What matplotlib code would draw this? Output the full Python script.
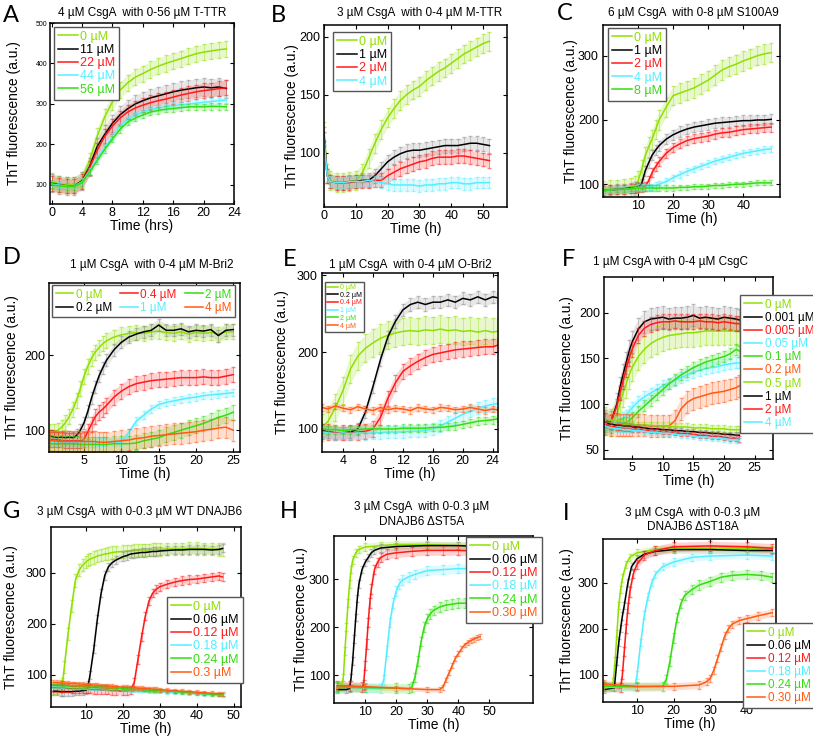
import numpy as np
import matplotlib
matplotlib.use("Agg")
import matplotlib.pyplot as plt

plt.rcParams['font.family'] = ['Liberation Sans', 'DejaVu Sans']

W, H = 813, 737

# ---------------- colours ----------------
LG = '#8ee000'   # 0 uM light green
GR = '#33dd11'
CY = '#55eeff'
RD = '#ff1a1a'
OR = '#ff5a14'
BK = '#000000'

# ---------------- Panel A ----------------
A_time = [0, 1, 2, 3, 4, 5, 6, 7, 8, 9, 10, 11, 12, 13, 14, 15, 16, 17, 18, 19, 20, 21, 22, 23]
A_0uM = [110, 102, 100, 100, 112, 160, 220, 268, 305, 334, 352, 366, 375, 385, 393, 400, 406, 412, 418, 424, 428, 431, 434, 436]
A_11uM = [105, 100, 98, 98, 110, 145, 195, 225, 252, 273, 288, 300, 308, 315, 320, 325, 330, 334, 337, 340, 342, 340, 342, 338]
A_22uM = [103, 100, 97, 97, 108, 142, 185, 220, 245, 265, 280, 290, 297, 303, 308, 312, 317, 322, 326, 330, 333, 335, 338, 340]
A_44uM = [102, 100, 97, 97, 108, 135, 165, 193, 220, 245, 262, 272, 280, 286, 290, 293, 296, 298, 300, 302, 304, 306, 308, 310]
A_56uM = [100, 98, 96, 96, 106, 132, 160, 188, 213, 237, 255, 265, 273, 280, 284, 287, 289, 291, 293, 293, 293, 294, 294, 293]
A_labels = ['0 µM', '11 µM', '22 µM', '44 µM', '56 µM']
A_err = [20, 22, 18, 8, 8]

# ---------------- Panel B ----------------
B_time = [0, 1, 2, 4, 6, 8, 10, 12, 14, 16, 18, 20, 22, 24, 26, 28, 30, 32, 34, 36, 38, 40, 42, 44, 46, 48, 50, 52]
B_0uM = [118, 82, 76, 74, 74, 75, 76, 82, 95, 108, 120, 130, 138, 145, 150, 154, 157, 162, 166, 170, 173, 177, 181, 185, 188, 191, 194, 196]
B_1uM = [116, 80, 75, 74, 74, 75, 75, 76, 76, 80, 86, 92, 96, 99, 101, 102, 102, 103, 104, 105, 106, 106, 106, 107, 108, 108, 107, 106]
B_2uM = [112, 80, 75, 74, 74, 74, 75, 75, 75, 76, 76, 80, 83, 86, 88, 90, 92, 93, 95, 96, 96, 96, 97, 97, 96, 95, 94, 93]
B_4uM = [112, 80, 75, 74, 74, 75, 75, 75, 76, 75, 74, 73, 72, 72, 72, 72, 71, 72, 72, 73, 73, 74, 74, 73, 73, 74, 74, 74]
B_labels = ['0 µM', '1 µM', '2 µM', '4 µM']
B_err = [8, 6, 6, 5]

# ---------------- Panel C ----------------
C_time = [0, 2, 4, 6, 8, 9, 10, 11, 12, 13, 14, 15, 16, 18, 20, 22, 24, 26, 28, 30, 32, 34, 36, 38, 40, 42, 44, 46, 48]
C_0uM = [90, 91, 92, 93, 95, 98, 105, 122, 143, 158, 170, 185, 200, 220, 238, 242, 246, 250, 256, 262, 270, 278, 283, 287, 292, 296, 300, 303, 305]
C_1uM = [90, 91, 92, 93, 94, 95, 96, 100, 120, 133, 145, 153, 160, 170, 177, 182, 186, 189, 191, 193, 195, 196, 197, 198, 199, 199, 200, 200, 201]
C_2uM = [90, 91, 92, 92, 93, 94, 95, 95, 96, 105, 118, 127, 135, 148, 157, 163, 168, 171, 173, 175, 178, 180, 181, 183, 185, 186, 187, 188, 189]
C_4uM = [90, 91, 92, 92, 93, 94, 95, 95, 95, 96, 96, 98, 100, 104, 110, 115, 120, 124, 128, 132, 136, 139, 142, 145, 148, 150, 152, 154, 155]
C_8uM = [90, 91, 92, 92, 93, 93, 94, 94, 94, 94, 94, 94, 94, 94, 94, 95, 95, 96, 96, 97, 98, 98, 99, 100, 100, 101, 102, 102, 102]
C_labels = ['0 µM', '1 µM', '2 µM', '4 µM', '8 µM']
C_err = [15, 8, 7, 5, 4]

# ---------------- Panel D ----------------
D_time = [0.5, 1, 1.5, 2, 2.5, 3, 3.5, 4, 4.5, 5, 5.5, 6, 6.5, 7, 7.5, 8, 9, 10, 11, 12, 13, 14, 15, 16, 17, 18, 19, 20, 21, 22, 23, 24, 25]
D_0uM = [98, 98, 100, 104, 110, 118, 128, 140, 155, 172, 185, 196, 204, 210, 215, 219, 224, 227, 229, 230, 229, 231, 232, 230, 229, 231, 228, 230, 229, 230, 228, 231, 231]
D_02uM = [92, 91, 90, 91, 90, 91, 90, 93, 100, 110, 125, 143, 158, 172, 183, 193, 207, 217, 224, 228, 231, 233, 240, 233, 233, 235, 231, 233, 232, 234, 226, 233, 234]
D_04uM = [88, 88, 87, 87, 86, 86, 86, 86, 86, 88, 98, 108, 118, 124, 128, 133, 144, 152, 158, 162, 164, 166, 167, 168, 169, 170, 170, 170, 171, 170, 170, 172, 174]
D_1uM = [84, 84, 84, 83, 83, 83, 83, 83, 83, 83, 83, 83, 83, 84, 84, 84, 84, 84, 97, 112, 120, 128, 134, 137, 139, 141, 143, 144, 146, 147, 148, 149, 150]
D_2uM = [82, 82, 82, 82, 82, 82, 82, 82, 81, 81, 81, 81, 81, 81, 81, 81, 82, 82, 82, 83, 86, 88, 90, 94, 97, 100, 103, 106, 109, 113, 117, 120, 124]
D_4uM = [86, 86, 85, 85, 85, 85, 85, 85, 85, 85, 85, 85, 85, 84, 84, 84, 85, 86, 87, 89, 90, 92, 93, 94, 95, 96, 97, 98, 100, 101, 103, 104, 100]
D_labels = ['0 µM', '0.2 µM', '0.4 µM', '1 µM', '2 µM', '4 µM']
D_err = [10, 8, 10, 5, 10, 14]

# ---------------- Panel E ----------------
E_time = [1.2, 2, 3, 4, 5, 6, 7, 8, 9, 10, 11, 12, 13, 14, 15, 16, 17, 18, 19, 20, 21, 22, 23, 24, 25]
E_0uM = [102, 110, 128, 150, 178, 195, 205, 212, 218, 222, 225, 227, 228, 227, 229, 228, 230, 228, 229, 227, 228, 226, 228, 226, 228]
E_02uM = [98, 96, 95, 95, 96, 100, 122, 155, 190, 220, 240, 255, 262, 265, 262, 265, 265, 268, 265, 270, 268, 272, 268, 272, 270]
E_04uM = [97, 96, 95, 95, 95, 96, 97, 100, 115, 140, 160, 175, 182, 188, 193, 197, 199, 201, 203, 204, 205, 206, 207, 207, 210]
E_1uM = [96, 95, 94, 95, 94, 95, 94, 95, 95, 96, 96, 96, 97, 97, 98, 100, 104, 109, 114, 119, 123, 127, 130, 132, 134]
E_2uM = [100, 99, 99, 98, 99, 99, 100, 100, 100, 100, 100, 101, 101, 101, 101, 102, 102, 103, 104, 106, 108, 110, 111, 112, 114]
E_4uM = [128, 126, 130, 127, 125, 129, 126, 124, 128, 125, 127, 126, 124, 128, 126, 125, 128, 127, 125, 126, 128, 126, 124, 126, 124]
E_labels = ['0 µM', '0.2 µM', '0.4 µM', '1 µM', '2 µM', '4 µM']
E_err = [18, 8, 10, 8, 5, 4]

# ---------------- Panel F ----------------
F_time = [0.5, 1.5, 2.5, 3, 3.5, 4, 4.5, 5, 6, 7, 8, 9, 10, 11, 12, 13, 14, 15, 16, 17, 18, 19, 20, 21, 22, 22.5]
F_0uM = [82, 80, 88, 100, 112, 122, 132, 140, 152, 160, 166, 170, 173, 175, 176, 177, 178, 178, 179, 180, 180, 180, 180, 180, 180, 180]
F_0001uM = [82, 80, 100, 118, 132, 145, 158, 168, 182, 190, 193, 194, 195, 193, 194, 194, 195, 197, 194, 195, 194, 193, 195, 194, 193, 192]
F_0005uM = [82, 80, 98, 112, 125, 138, 150, 160, 175, 183, 187, 189, 190, 190, 191, 190, 190, 190, 191, 190, 190, 189, 190, 189, 188, 188]
F_005uM = [80, 78, 80, 82, 85, 88, 92, 96, 103, 108, 112, 116, 120, 123, 126, 129, 132, 135, 137, 139, 140, 141, 143, 144, 145, 145]
F_01uM = [78, 77, 77, 78, 79, 80, 82, 85, 92, 98, 104, 110, 116, 122, 127, 132, 136, 140, 143, 146, 148, 150, 152, 155, 160, 158]
F_02uM = [78, 77, 77, 77, 77, 77, 77, 77, 77, 77, 76, 76, 76, 76, 82, 95, 102, 106, 108, 110, 112, 113, 114, 116, 118, 120]
F_05uM = [80, 79, 79, 79, 78, 78, 78, 78, 77, 77, 77, 76, 76, 76, 75, 75, 75, 74, 74, 74, 73, 73, 73, 72, 72, 72]
F_1uM = [80, 78, 77, 77, 76, 76, 76, 75, 75, 74, 73, 73, 72, 72, 71, 71, 70, 70, 69, 69, 68, 68, 67, 67, 66, 66]
F_2uM = [78, 76, 75, 75, 74, 74, 74, 73, 73, 72, 71, 71, 70, 70, 69, 68, 68, 67, 66, 66, 65, 65, 64, 63, 63, 62]
F_4uM = [76, 74, 73, 73, 72, 72, 72, 71, 71, 70, 69, 69, 68, 68, 67, 66, 66, 65, 64, 64, 63, 63, 62, 61, 61, 60]
F_labels = ['0 µM', '0.001 µM', '0.005 µM', '0.05 µM', '0.1 µM', '0.2 µM', '0.5 µM', '1 µM', '2 µM', '4 µM']
F_err = [15, 12, 8, 6, 6, 12, 4, 3, 3, 3]

# ---------------- Panel G ----------------
G_time = [1, 2, 3, 3.5, 4, 5, 6, 7, 8, 9, 10, 10.5, 11, 12, 13, 14, 15, 16, 17, 18, 20, 21, 22, 23, 24, 25, 26, 27, 28, 29, 30, 32, 34, 36, 38, 40, 42, 44, 46, 47]
G_0uM = [75, 75, 78, 82, 115, 180, 235, 285, 305, 315, 322, 325, 327, 330, 333, 335, 337, 338, 340, 341, 342, 343, 343, 344, 344, 345, 345, 345, 346, 346, 346, 347, 347, 347, 348, 348, 347, 347, 346, 346]
G_006uM = [68, 68, 67, 67, 67, 67, 67, 68, 68, 69, 70, 80, 100, 150, 210, 260, 295, 312, 320, 325, 332, 334, 337, 338, 339, 340, 340, 341, 342, 342, 343, 344, 345, 345, 346, 346, 346, 345, 346, 348]
G_012uM = [75, 75, 74, 74, 74, 74, 73, 73, 73, 72, 72, 72, 72, 71, 71, 70, 70, 70, 69, 69, 68, 68, 70, 85, 130, 175, 215, 245, 260, 268, 273, 278, 282, 285, 287, 288, 290, 292, 294, 292]
G_018uM = [78, 77, 77, 77, 77, 76, 76, 76, 75, 75, 75, 75, 74, 74, 74, 73, 73, 73, 72, 72, 71, 71, 70, 70, 70, 69, 69, 68, 68, 68, 67, 66, 65, 65, 64, 63, 62, 62, 61, 60]
G_024uM = [80, 79, 79, 79, 79, 78, 78, 78, 77, 77, 77, 76, 76, 76, 75, 75, 75, 74, 74, 74, 73, 73, 72, 72, 72, 71, 71, 70, 70, 70, 69, 68, 67, 66, 65, 64, 63, 62, 61, 61]
G_03uM = [85, 85, 84, 84, 84, 84, 83, 83, 82, 82, 81, 81, 81, 80, 80, 79, 79, 78, 78, 77, 76, 76, 75, 75, 74, 74, 73, 73, 72, 72, 71, 70, 69, 68, 67, 66, 65, 64, 63, 63]
G_labels = ['0 µM', '0.06 µM', '0.12 µM', '0.18 µM', '0.24 µM', '0.3 µM']
G_err = [12, 8, 8, 3, 3, 4]

# ---------------- Panel H ----------------
H_t_0 = [1, 2, 2.5, 3, 3.5, 4, 4.5, 5, 5.5, 6, 7, 8, 10, 15, 20, 30, 40, 47]
H_y_0 = [78, 78, 79, 95, 150, 200, 250, 290, 320, 340, 355, 362, 367, 370, 372, 372, 370, 370]
H_t_006 = [1, 4, 5, 5.5, 6, 6.5, 7, 7.5, 8, 9, 10, 11, 12, 13, 15, 20, 30, 40, 47]
H_y_006 = [70, 70, 72, 95, 130, 175, 220, 260, 290, 320, 335, 345, 355, 360, 365, 368, 370, 370, 368]
H_t_012 = [1, 5, 9, 9.5, 10, 10.5, 11, 11.5, 12, 13, 14, 15, 17, 20, 25, 30, 35, 40, 47]
H_y_012 = [78, 77, 75, 80, 120, 165, 210, 250, 280, 320, 335, 345, 352, 355, 358, 360, 360, 360, 358]
H_t_018 = [1, 10, 15, 16, 17, 18, 19, 20, 21, 22, 24, 26, 30, 35, 40, 44, 47]
H_y_018 = [75, 74, 72, 90, 150, 210, 250, 275, 290, 298, 305, 310, 318, 320, 322, 322, 320]
H_t_024 = [1, 10, 20, 24, 25, 26, 27, 28, 29, 30, 31, 32, 34, 36, 38, 40, 42, 44, 47]
H_y_024 = [75, 74, 73, 72, 75, 95, 130, 170, 200, 218, 228, 235, 242, 246, 248, 250, 250, 252, 250]
H_t_030 = [1, 10, 20, 30, 34, 35, 36, 37, 38, 39, 40, 41, 42, 43, 44, 45, 46, 47]
H_y_030 = [78, 76, 73, 70, 70, 75, 90, 105, 120, 135, 145, 155, 163, 168, 172, 175, 178, 180]
H_labels = ['0 µM', '0.06 µM', '0.12 µM', '0.18 µM', '0.24 µM', '0.30 µM']
H_err = [8, 8, 10, 10, 10, 5]

# ---------------- Panel I ----------------
I_t_0 = [1, 3, 3.5, 4, 4.5, 5, 5.5, 6, 7, 8, 10, 15, 20, 30, 40, 47]
I_y_0 = [75, 75, 85, 130, 190, 250, 285, 310, 340, 355, 365, 372, 375, 375, 375, 372]
I_t_006 = [1, 3.8, 4.5, 5, 5.5, 6, 6.5, 7.5, 8.5, 10, 12, 15, 20, 30, 40, 47]
I_y_006 = [68, 72, 130, 170, 200, 228, 250, 300, 335, 352, 362, 368, 372, 372, 370, 370]
I_t_012 = [1, 5.5, 6, 6.5, 7, 7.5, 8, 9, 10, 12, 15, 20, 30, 40, 47]
I_y_012 = [75, 72, 100, 150, 200, 245, 280, 320, 340, 360, 370, 378, 380, 378, 375]
I_t_018 = [1, 9.5, 10, 11, 12, 13, 14, 15, 17, 20, 25, 30, 40, 47]
I_y_018 = [72, 75, 100, 170, 230, 270, 300, 318, 335, 345, 355, 358, 360, 358]
I_t_024 = [1, 10, 17, 18, 19, 20, 21, 22, 23, 25, 27, 30, 33, 36, 40, 44, 47]
I_y_024 = [75, 74, 75, 90, 130, 180, 225, 255, 272, 285, 295, 303, 312, 316, 318, 316, 312]
I_t_030 = [1, 10, 20, 27, 29, 30, 31, 32, 33, 34, 35, 36, 38, 40, 43, 47]
I_y_030 = [80, 75, 75, 78, 85, 92, 110, 135, 160, 185, 200, 210, 218, 222, 228, 235]
I_labels = ['0 µM', '0.06 µM', '0.12 µM', '0.18 µM', '0.24 µM', '0.30 µM']
I_err = [8, 8, 10, 8, 10, 8]

# ---------------- helpers ----------------
fig = plt.figure(figsize=(W / 100, H / 100), dpi=100)
fig.patch.set_facecolor('white')


def make_ax(l, t, r, b):
    ax = fig.add_axes([l / W, 1 - b / H, (r - l) / W, (b - t) / H])
    for s in ax.spines.values():
        s.set_linewidth(1.1)
    ax.tick_params(direction='in', length=3, width=0.8, top=True, right=True,
                   labelsize=9)
    ax.tick_params(axis='x', pad=2)
    ax.tick_params(axis='y', pad=3)
    ax._px = (l, t, r, b)
    return ax


def series(ax, t, y, err, color, label, lw=1.1):
    t = np.asarray(t, float)
    y = np.asarray(y, float)
    band = '#8a8a8a' if color == BK else color
    ax.fill_between(t, y - err, y + err, color=band, alpha=0.2, lw=0)
    ax.errorbar(t, y, yerr=err, fmt='none', ecolor=band, elinewidth=0.5,
                capsize=1.2, alpha=0.55)
    ax.plot(t, y, color=color, lw=lw, label=label)


def labels(ax, xl, ylx, ylabel='ThT fluorescence (a.u.)'):
    l, t, r, b = ax._px
    ax.set_ylabel(ylabel, fontsize=10)
    ax.yaxis.set_label_coords((ylx + 6 - l) / (r - l), 0.5)
    ax.set_xlabel(xl, fontsize=10, labelpad=0.5)


def legend(ax, x, y, fs=9, ncol=1, **kw):
    opts = dict(handlelength=1.6, handletextpad=0.2, labelspacing=0.1,
                borderpad=0.3)
    opts.update(kw)
    lg = ax.legend(loc='upper left', bbox_to_anchor=(x / W, 1 - y / H),
                   bbox_transform=fig.transFigure, fontsize=fs, ncol=ncol,
                   frameon=True, fancybox=False, borderaxespad=0,
                   labelcolor='linecolor', **opts)
    lg.get_frame().set_edgecolor('#555555')
    lg.get_frame().set_linewidth(1.0)
    lg.get_frame().set_alpha(1)
    lg.set_zorder(10)
    return lg


def ftext(x, y, s, **kw):
    fig.text(x / W, 1 - y / H, s, **kw)


def letter(x, y, s):
    fig.text(x / W, 1 - y / H, s, fontsize=17, family=['Lato', 'DejaVu Sans'],
             ha='left', va='center')


def title(x, y, s):
    ftext(x, y, s, fontsize=8.5, ha='center', va='center')


# ---------------- A ----------------
ax = make_ax(50, 23, 234, 204)
cols = [LG, BK, RD, CY, GR]
for v, c, lab, e in zip([A_0uM, A_11uM, A_22uM, A_44uM, A_56uM], cols, A_labels, A_err):
    series(ax, A_time, v, e, c, lab)
ax.set_xlim(-0.2, 24)
ax.set_ylim(53, 500)
ax.set_xticks([0, 4, 8, 12, 16, 20, 24])
ax.set_yticks([100, 200, 300, 400, 500])
ax.tick_params(axis='y', labelsize=5, pad=2)
labels(ax, 'Time (hrs)', 15)
legend(ax, 54, 27)
title(142, 13, '4 µM CsgA  with 0-56 µM T-TTR')
letter(3, 15, 'A')

# ---------------- B ----------------
ax = make_ax(324, 25, 507, 207)
for v, c, lab, e in zip([B_0uM, B_1uM, B_2uM, B_4uM], [LG, BK, RD, CY], B_labels, B_err):
    series(ax, B_time, v, e, c, lab)
ax.set_xlim(0, 57.5)
ax.set_ylim(53, 210)
ax.set_xticks([0, 10, 20, 30, 40, 50])
ax.set_yticks([100, 150, 200])
labels(ax, 'Time (h)', 293)
legend(ax, 333, 32)
title(420, 13, '3 µM CsgA  with 0-4 µM M-TTR')
letter(271, 15, 'B')

# ---------------- C ----------------
ax = make_ax(603, 25, 780, 197)
for v, c, lab, e in zip([C_0uM, C_1uM, C_2uM, C_4uM, C_8uM], [LG, BK, RD, CY, GR], C_labels, C_err):
    series(ax, C_time, v, e, c, lab)
ax.set_xlim(0, 50.5)
ax.set_ylim(80, 348)
ax.set_xticks([10, 20, 30, 40])
ax.set_yticks([100, 200, 300])
labels(ax, 'Time (h)', 572)
legend(ax, 608, 28)
title(693, 13, '6 µM CsgA  with 0-8 µM S100A9')
letter(557, 14, 'C')

# ---------------- D ----------------
ax = make_ax(49, 283, 240, 452)
for v, c, lab, e in zip([D_0uM, D_02uM, D_04uM, D_1uM, D_2uM, D_4uM], [LG, BK, RD, CY, GR, OR], D_labels, D_err):
    series(ax, D_time, v, e, c, lab)
ax.set_xlim(0.3, 25.9)
ax.set_ylim(71, 296)
ax.set_xticks([5, 10, 15, 20, 25])
ax.set_yticks([100, 200])
labels(ax, 'Time (h)', 13)
legend(ax, 52, 285, fs=8.5, ncol=3, columnspacing=0.7, handlelength=1.5)
title(152, 265, '1 µM CsgA  with 0-4 µM M-Bri2')
letter(3, 258, 'D')

# ---------------- E ----------------
ax = make_ax(322, 273, 498, 452)
for v, c, lab, e in zip([E_0uM, E_02uM, E_04uM, E_1uM, E_2uM, E_4uM], [LG, BK, RD, CY, GR, OR], E_labels, E_err):
    series(ax, E_time, v, e, c, lab)
ax.set_xlim(1.2, 24.7)
ax.set_ylim(70, 303)
ax.set_xticks([4, 8, 12, 16, 20, 24])
ax.set_yticks([100, 200, 300])
labels(ax, 'Time (h)', 283)
legend(ax, 325, 282, fs=5)
title(410, 265, '1 µM CsgA  with 0-4 µM O-Bri2')
letter(283, 260, 'E')

# ---------------- F ----------------
ax = make_ax(604, 277, 773, 459)
F_series = [F_0uM, F_0001uM, F_0005uM, F_005uM, F_01uM, F_02uM, F_05uM, F_1uM, F_2uM, F_4uM]
F_cols = [LG, BK, RD, CY, GR, OR, LG, BK, RD, CY]
for v, c, lab, e in zip(F_series, F_cols, F_labels, F_err):
    series(ax, F_time, v, e, c, lab)
ax.set_xlim(0.4, 28)
ax.set_ylim(40, 239)
ax.set_xticks([5, 10, 15, 20, 25])
ax.set_yticks([50, 100, 150, 200])
labels(ax, 'Time (h)', 568)
legend(ax, 740, 295, fs=8.5)
title(670, 262, '1 µM CsgA with 0-4 µM CsgC')
letter(562, 260, 'F')

# ---------------- G ----------------
ax = make_ax(51, 527, 241, 707)
for v, c, lab, e in zip([G_0uM, G_006uM, G_012uM, G_018uM, G_024uM, G_03uM], [LG, BK, RD, CY, GR, OR], G_labels, G_err):
    series(ax, G_time, v, e, c, lab)
ax.set_xlim(0.4, 52)
ax.set_ylim(37, 390)
ax.set_xticks([10, 20, 30, 40, 50])
ax.set_yticks([100, 200, 300])
labels(ax, 'Time (h)', 12)
legend(ax, 167, 597)
title(140, 512, '3 µM CsgA  with 0-0.3 µM WT DNAJB6')
letter(3, 512, 'G')

# ---------------- H ----------------
ax = make_ax(334, 536, 533, 703)
H_t = [H_t_0, H_t_006, H_t_012, H_t_018, H_t_024, H_t_030]
H_y = [H_y_0, H_y_006, H_y_012, H_y_018, H_y_024, H_y_030]
for t, v, c, lab, e in zip(H_t, H_y, [LG, BK, RD, CY, GR, OR], H_labels, H_err):
    series(ax, t, v, e, c, lab)
ax.set_xlim(0, 64)
ax.set_ylim(42, 390)
ax.set_xticks([10, 20, 30, 40, 50])
ax.set_yticks([100, 200, 300])
labels(ax, 'Time (h)', 302)
legend(ax, 466, 537)
title(422, 507, '3 µM CsgA  with 0-0.3 µM')
title(422, 522, 'DNAJB6 ΔST5A')
letter(280, 512, 'H')

# ---------------- I ----------------
ax = make_ax(603, 539, 776, 702)
I_t = [I_t_0, I_t_006, I_t_012, I_t_018, I_t_024, I_t_030]
I_y = [I_y_0, I_y_006, I_y_012, I_y_018, I_y_024, I_y_030]
for t, v, c, lab, e in zip(I_t, I_y, [LG, BK, RD, CY, GR, OR], I_labels, I_err):
    series(ax, t, v, e, c, lab)
ax.set_xlim(0.7, 48)
ax.set_ylim(41, 395)
ax.set_xticks([10, 20, 30, 40])
ax.set_yticks([100, 200, 300])
labels(ax, 'Time (h)', 568)
legend(ax, 743, 623, fs=8.5)
title(693, 513, '3 µM CsgA  with 0-0.3 µM')
title(693, 527, 'DNAJB6 ΔST18A')
letter(563, 513, 'I')

fig.savefig('out.png', dpi=100, facecolor='white')
